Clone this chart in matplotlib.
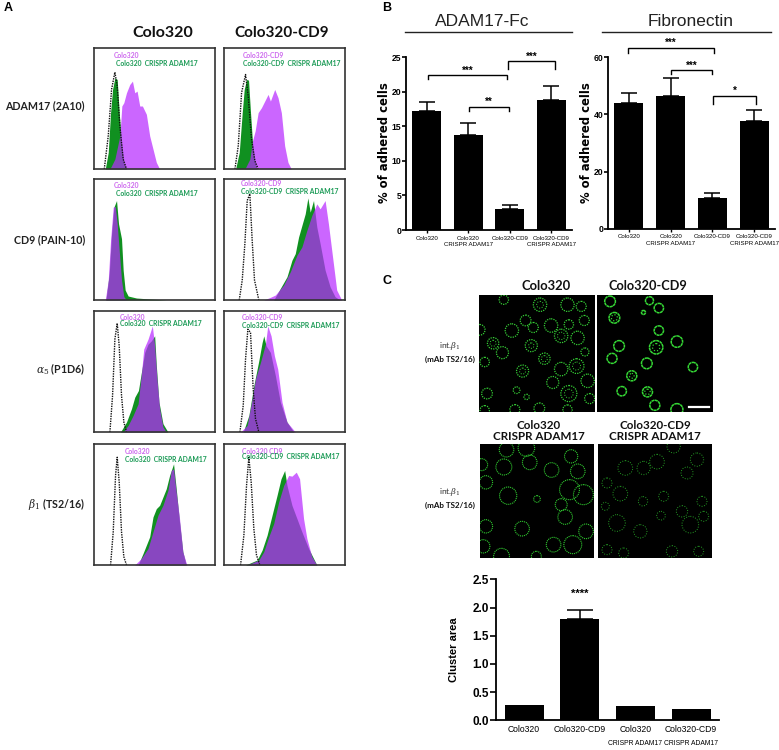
import matplotlib
matplotlib.use('Agg')
import matplotlib.pyplot as plt
from matplotlib.patches import Circle

W, H = 779, 750
ARIAL = 'Liberation Sans'
CAL = 'Lato'
plt.rcParams['mathtext.fontset'] = 'dejavuserif'

# ---------- A: histograms (fluorescence channel, counts) ----------
hist_rows = ['ADAM17 (2A10)', 'CD9 (PAIN-10)', r'$\alpha_5$ (P1D6)', r'$\beta_1$ (TS2/16)']
hist_cols = ['Colo320', 'Colo320-CD9']

r1c1_iso = ([31,43,53,63,70,78,88,98], [0,100,240,292,250,130,30,0])
r1c1_grn = ([34,43,50,56,63,70,76,83,90,98], [0,50,170,240,275,270,170,80,20,0])
r1c1_pur = ([48,63,78,84,90,98,108,116,123,130,138,146,158,168,178,188,198],
            [0,30,100,190,200,230,255,265,230,235,190,190,165,100,60,20,0])
r1c2_iso = ([33,43,53,65,73,83,93,103], [0,70,230,285,220,90,25,0])
r1c2_grn = ([35,46,55,61,68,74,80,86,94,100], [0,50,170,240,270,268,170,80,20,0])
r1c2_pur = ([63,78,86,94,103,113,123,133,140,153,163,173,183,193,203],
            [0,30,85,115,170,185,205,225,205,240,215,170,70,20,0])
r2c1_iso = ([], [])
r2c1_grn = ([36,46,53,60,68,74,83,88,94,103,128,168,218], [0,80,200,280,300,230,185,90,30,12,6,3,0])
r2c1_pur = ([34,43,50,58,64,70,76,83,90,98], [0,60,180,280,282,230,150,60,10,0])
r2c2_iso = ([46,55,63,70,78,85,92,105], [0,60,170,300,320,180,60,0])
r2c2_grn = ([150,170,190,205,215,225,235,245,253,260,270,280,290,305,320,335,350],
            [0,35,70,120,140,190,225,260,308,265,300,220,170,90,40,10,0])
r2c2_pur = ([120,140,155,180,200,220,235,250,265,280,290,305,315,330,340,355],
            [0,8,15,45,85,135,160,210,255,290,275,300,230,110,30,0])
r3c1_iso = ([48,56,63,70,76,83,90,98], [0,110,280,328,260,110,30,0])
r3c1_grn = ([80,98,113,123,134,143,153,163,173,183,188,196,208,223],
            [0,30,70,105,125,180,240,265,275,290,200,90,25,0])
r3c1_pur = ([88,103,118,133,143,150,163,176,183,190,198,208,218],
            [0,20,50,85,175,250,280,320,260,160,70,15,0])
r3c2_iso = ([48,58,65,72,80,88,95,105], [0,80,220,310,300,130,40,0])
r3c2_grn = ([58,75,90,105,115,120,127,140,155,170,190,210], [0,50,140,215,270,290,260,240,170,90,30,0])
r3c2_pur = ([50,70,85,95,110,125,132,142,152,162,175,190,215],
            [0,20,100,160,210,265,320,290,230,190,90,30,0])
r4c1_iso = ([50,58,65,70,76,83,90,98], [0,100,270,325,250,100,25,0])
r4c1_grn = ([133,148,158,168,178,188,198,208,218,228,240,248,258,268,278],
            [0,35,60,85,145,170,180,205,230,270,305,230,130,40,0])
r4c1_pur = ([123,143,163,178,193,208,223,233,240,248,258,268,280],
            [0,20,50,100,150,180,225,285,290,220,140,40,0])
r4c2_iso = ([50,60,68,75,82,90,98,108], [0,90,240,325,250,110,30,0])
r4c2_grn = ([65,100,115,130,145,160,172,183,190,205,220,235,255,280],
            [0,15,45,90,150,210,260,285,240,180,140,100,50,0])
r4c2_pur = ([70,105,120,135,150,165,180,195,205,218,228,235,240,250,265,280],
            [0,15,40,85,125,190,240,270,268,280,260,190,140,80,25,0])

hist_data = [[(r1c1_iso, r1c1_grn, r1c1_pur), (r1c2_iso, r1c2_grn, r1c2_pur)],
             [(r2c1_iso, r2c1_grn, r2c1_pur), (r2c2_iso, r2c2_grn, r2c2_pur)],
             [(r3c1_iso, r3c1_grn, r3c1_pur), (r3c2_iso, r3c2_grn, r3c2_pur)],
             [(r4c1_iso, r4c1_grn, r4c1_pur), (r4c2_iso, r4c2_grn, r4c2_pur)]]

# ---------- B: adhesion bars ----------
bar_cats = ['Colo320', 'Colo320\nCRISPR ADAM17', 'Colo320-CD9', 'Colo320-CD9\nCRISPR ADAM17']
adam_vals = [17.2, 13.8, 3.1, 18.8]
adam_errs = [1.3, 1.7, 0.5, 2.0]
adam_ticks = [0, 5, 10, 15, 20, 25]
adam_brackets = [(0.04, 1.93, 22.4, 0.6, 0.6, '***'), (1.03, 1.97, 17.8, 0.6, 0.6, '**'),
                 (1.96, 3.08, 24.4, 1.15, 1.15, '***')]
fibro_vals = [44.0, 46.5, 10.8, 37.6]
fibro_errs = [3.4, 6.2, 1.6, 3.8]
fibro_ticks = [0, 20, 40, 60]
fibro_brackets = [(-0.01, 2.03, 63.4, 2.0, 2.0, '***'), (1.0, 2.0, 55.4, 1.1, 1.1, '***'),
                  (2.02, 3.04, 46.4, 2.6, 2.6, '*')]

# ---------- C: cluster area bars ----------
clu_top = ['Colo320', 'Colo320-CD9', 'Colo320', 'Colo320-CD9']
clu_sub = ['', '', 'CRISPR ADAM17', 'CRISPR ADAM17']
clu_vals = [0.28, 1.79, 0.26, 0.20]
clu_errs = [0.0, 0.17, 0.0, 0.0]
clu_ticks = [0.0, 0.5, 1.0, 1.5, 2.0, 2.5]

# ---------- C: cell outlines seen in the micrographs (x, y, radius) ----------
cells1 = [(372,30,14),(480,45,20),(562,45,20),(603,50,15),(300,120,16),(396,122,20),(437,92,16),(460,113,15),
          (513,107,20),(566,104,14),(612,92,15),(543,138,20),(592,144,20),(340,160,17),(368,188,18),(454,167,18),
          (493,206,17),(614,186,12),(315,216,14),(428,243,18),(543,237,20),(589,228,22),(518,277,18),(622,272,20),
          (566,310,24),(322,310,16),(410,300,10),(440,320,8),(628,325,15),(405,358,15),(478,354,16),(562,358,14),(315,360,14)]
inner1 = [(480,45,10),(543,138,11),(493,206,9),(340,160,9),(428,243,9),(589,228,12),(566,310,13),(454,167,8)]
cells2 = [(690,35,16),(808,33,12),(836,55,14),(703,84,16),(836,122,14),(717,168,16),(828,172,20),(890,155,17),
          (696,205,15),(800,220,16),(938,231,14),(755,257,15),(725,303,14),(802,305,15),(824,345,15),(890,358,18),(790,68,6)]
inner2 = [(828,172,11),(755,257,7),(802,305,8),(703,84,9)]
cells3 = [(372,532,24),(450,518,22),(516,541,22),(318,578,20),(385,618,26),(472,628,10),(557,682,22),(427,717,22),
          (580,765,27),(522,765,22),(318,710,20),(310,770,20),(365,800,24),(595,545,22),(570,600,30),(612,615,30),
          (545,645,18),(620,725,22),(380,480,22),(440,475,25),(575,500,20),(470,800,15),(305,525,18)]
cells4 = [(830,516,22),(790,535,20),(735,535,22),(920,550,18),(950,510,20),(880,470,20),(720,612,22),(788,635,14),
          (850,620,15),(905,665,17),(842,678,13),(780,725,20),(710,700,25),(680,580,15),(680,780,15),(730,790,15),
          (875,785,17),(955,785,15),(930,705,25),(970,680,15),(675,650,12),(965,635,15)]

fig = plt.figure(figsize=(W/100, H/100), dpi=100, facecolor='white')

def axpx(x0, y0, x1, y1):
    return fig.add_axes([x0/W, 1-y1/H, (x1-x0)/W, (y1-y0)/H])

def T(x, y, s, **kw):
    kw.setdefault('ha', 'center'); kw.setdefault('va', 'center')
    return fig.text(x/W, 1-y/H, s, **kw)

# ---- panel letters ----
T(8, 8, 'A', fontsize=9, fontweight='bold', family=ARIAL)
T(387, 8, 'B', fontsize=9, fontweight='bold', family=ARIAL)
T(387, 281, 'C', fontsize=9, fontweight='bold', family=ARIAL)

# ---- A ----
col_left = [94, 224]
row_top = [48, 179, 311, 444]
PUR, GRN = '#b82bff', '#109020'
for r, row in enumerate(hist_data):
    for c, (iso, grn, pur) in enumerate(row):
        ax = axpx(col_left[c], row_top[r], col_left[c]+121, row_top[r]+121)
        ax.fill_between(grn[0], grn[1], color=GRN, lw=0)
        ax.fill_between(pur[0], pur[1], color=PUR, alpha=0.72, lw=0)
        ax.plot(iso[0], iso[1], color='#111111', lw=1.0, ls=(0, (1, 0.8)))
        ax.set_xlim(0, 365); ax.set_ylim(0, 365)
        ax.set_xticks([]); ax.set_yticks([])
        for s in ax.spines.values():
            s.set_linewidth(1.2); s.set_color('#333333')
    T(85, [106, 240, 369, 504][r], hist_rows[r], ha='right', fontsize=7.7, fontweight='bold', family=CAL, color='#222222')

T(163, 33, hist_cols[0], fontsize=11.5, fontweight='bold', family=CAL, color='#111111')
T(282, 33, hist_cols[1], fontsize=11, fontweight='bold', family=CAL, color='#111111')

PTX, GTX = '#cc66ee', '#1a9a55'
leg_fs = 4.9
for x, y, s, col in [
    (114, 55, 'Colo320', PTX), (115.5, 63, 'Colo320  CRISPR ADAM17', GTX),
    (242.5, 55, 'Colo320-CD9', PTX), (243, 63, 'Colo320-CD9  CRISPR ADAM17', GTX),
    (114, 185, 'Colo320', PTX), (115.5, 193, 'Colo320  CRISPR ADAM17', GTX),
    (241, 184, 'Colo320-CD9', PTX), (241, 192, 'Colo320-CD9  CRISPR ADAM17', GTX),
    (119.5, 317, 'Colo320', PTX), (120, 324, 'Colo320  CRISPR ADAM17', GTX),
    (241.5, 317, 'Colo320-CD9', PTX), (242.5, 325, 'Colo320-CD9  CRISPR ADAM17', GTX),
    (125, 452, 'Colo320', PTX), (125, 460, 'Colo320  CRISPR ADAM17', GTX),
    (242, 451, 'Colo320 CD9', PTX), (242, 457, 'Colo320-CD9  CRISPR ADAM17', GTX)]:
    T(x, y, s, ha='left', fontsize=leg_fs, fontweight='bold', family=CAL, color=col)

# ---- bars ----
def bars(ax, vals, errs, ticks, top):
    x = range(len(vals))
    ax.bar(x, vals, width=0.69, color='black')
    ax.errorbar(x, vals, yerr=[[0]*len(errs), errs], fmt='none', ecolor='black', elinewidth=1.1, capsize=5.5, capthick=1.1)
    ax.set_xlim(-0.5, 3.5); ax.set_ylim(0, top)
    ax.set_yticks(ticks); ax.set_xticks(list(x))
    ax.spines['top'].set_visible(False); ax.spines['right'].set_visible(False)
    ax.spines['left'].set_linewidth(1.3); ax.spines['bottom'].set_linewidth(1.3)
    ax.tick_params(axis='y', length=2.6, width=1.2, pad=0.8, labelsize=6.2)
    ax.tick_params(axis='x', length=2.5, width=1, pad=1.5)
    for l in ax.get_yticklabels():
        l.set_fontweight('bold'); l.set_family(ARIAL)
    ax.patch.set_alpha(0)

def brackets(ax, items, star_gap):
    for x0, x1, y, d0, d1, s in items:
        ax.plot([x0, x0, x1, x1], [y-d0, y, y, y-d1], color='black', lw=1.0, clip_on=False, solid_joinstyle='miter')
        ax.text((x0+x1)/2, y+star_gap, s, ha='center', va='center', fontsize=7, fontweight='bold', family=ARIAL, clip_on=False)

ax = axpx(406, 57.3, 572, 230)
bars(ax, adam_vals, adam_errs, adam_ticks, 25)
ax.set_xticklabels(bar_cats, fontsize=4.4, family=ARIAL, linespacing=1.35)
brackets(ax, adam_brackets, 0.7)

ax = axpx(608, 57.3, 775, 228.7)
bars(ax, fibro_vals, fibro_errs, fibro_ticks, 60)
ax.set_xticklabels(bar_cats, fontsize=4.4, family=ARIAL, linespacing=1.35)
brackets(ax, fibro_brackets, 1.7)

T(385, 143, '% of adhered cells', rotation=90, fontsize=8.4, fontweight='bold', family='DejaVu Sans')
T(587, 143, '% of adhered cells', rotation=90, fontsize=8.4, fontweight='bold', family='DejaVu Sans')

T(482, 21, 'ADAM17-Fc', fontsize=12.5, family=ARIAL, color='#222222')
T(690.5, 21, 'Fibronectin', fontsize=12.5, family=ARIAL, color='#222222')
fig.add_artist(plt.Line2D([405/W, 572/W], [1-32/H]*2, color='#222222', lw=1))
fig.add_artist(plt.Line2D([602/W, 771/W], [1-32/H]*2, color='#222222', lw=1))

# ---- C images ----
def micro(rect, cells, xl, yl, col, lw, dots, inner=()):
    ax = axpx(*rect)
    ax.set_facecolor('black')
    ax.set_xlim(*xl); ax.set_ylim(yl[1], yl[0])
    ax.set_xticks([]); ax.set_yticks([])
    for s in ax.spines.values():
        s.set_visible(False)
    for cx, cy, r in cells:
        ax.add_patch(Circle((cx, cy), r, fill=False, ec=col, lw=lw, ls=dots))
    for cx, cy, r in inner:
        ax.add_patch(Circle((cx, cy), r, fill=False, ec=col, lw=lw*0.8, ls=(0, (1, 1.6))))
    return ax

micro((479, 295, 595, 412), cells1, (298, 644), (16, 365), '#35cf35', 0.9, (0, (1, 0.9)), inner1)
a2 = micro((597, 295, 713, 412), cells2, (651, 998), (16, 365), '#35d835', 1.1, (0, (2, 0.3)), inner2)
a2.plot([925, 985], [351, 351], color='white', lw=1.6)
micro((480, 444, 594, 558), cells3, (300, 644), (463, 805), '#2fc82f', 0.8, (0, (1, 0.8)))
micro((598, 444, 712, 558), cells4, (653, 995), (463, 805), '#25a025', 0.7, (0, (1, 1.6)))

T(546, 286, 'Colo320', fontsize=9.4, fontweight='bold', family=CAL, color='#111111')
T(648, 286, 'Colo320-CD9', fontsize=9.2, fontweight='bold', family=CAL, color='#111111')
T(539, 431, 'Colo320\nCRISPR ADAM17', fontsize=8.4, fontweight='bold', family=CAL, color='#111111', linespacing=0.98)
T(655, 431, 'Colo320-CD9\nCRISPR ADAM17', fontsize=8.4, fontweight='bold', family=CAL, color='#111111', linespacing=0.98)

for y in (346, 492):
    T(450, y, r'int.$\beta_1$', fontsize=6, family=CAL, color='#333333')
    T(450, y+13, '(mAb TS2/16)', fontsize=5.8, fontweight='bold', family=CAL, color='#111111')

# ---- C bars ----
ax = axpx(496.3, 579.3, 719, 720.3)
x = range(4)
ax.bar(x, clu_vals, width=0.70, color='black')
ax.errorbar(x[1], clu_vals[1], yerr=[[0], [clu_errs[1]]], fmt='none', ecolor='black', elinewidth=1.1, capsize=9.5, capthick=1.1)
ax.set_xlim(-0.5, 3.5); ax.set_ylim(0, 2.5)
ax.set_yticks(clu_ticks); ax.set_yticklabels([f'{v:.1f}' for v in clu_ticks], fontweight='bold', family=ARIAL, fontsize=8.5)
ax.set_xticks(list(x))
ax.set_xticklabels(clu_top, fontsize=6.2, family=ARIAL)
for xi, s in zip(x, clu_sub):
    if s:
        ax.annotate(s, (xi, 0), xycoords=('data', 'axes fraction'), xytext=(0, -17), textcoords='offset points',
                    ha='center', va='center', fontsize=4.9, family=ARIAL)
ax.spines['top'].set_visible(False); ax.spines['right'].set_visible(False)
ax.spines['left'].set_linewidth(1.3); ax.spines['bottom'].set_linewidth(1.3)
ax.tick_params(axis='y', length=4, width=1.2, pad=1.5)
ax.tick_params(axis='x', length=0, pad=3.5)
ax.text(1, 2.24, '****', ha='center', va='center', fontsize=8, fontweight='bold', family=ARIAL)
T(454, 650, 'Cluster area', rotation=90, fontsize=8, fontweight='bold', family=ARIAL)

fig.savefig('out.png', dpi=100, facecolor='white')
